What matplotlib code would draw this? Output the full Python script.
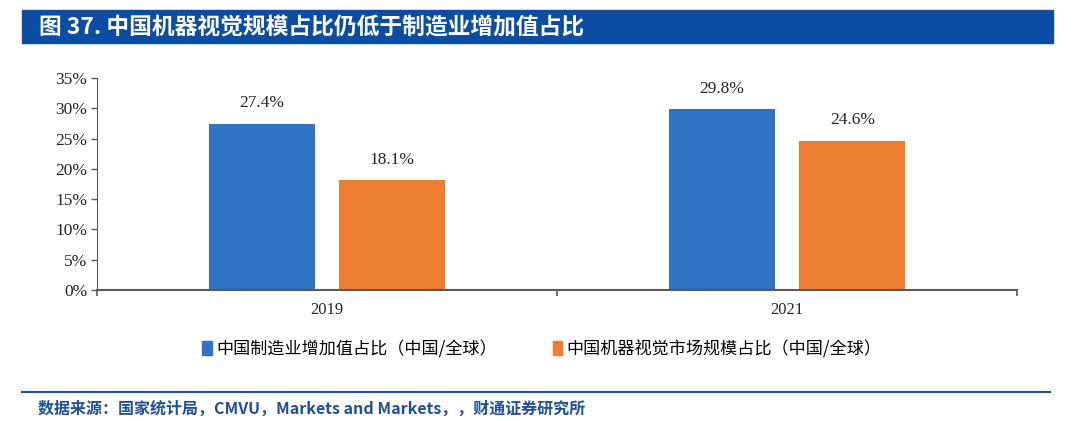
import matplotlib
matplotlib.use("Agg")
import matplotlib.pyplot as plt
from matplotlib.patches import Rectangle
from matplotlib.lines import Line2D
import numpy as np

years = ["2019", "2021"]
manufacturing_share = [27.4, 29.8]
vision_share = [18.1, 24.6]
series_names = ["中国制造业增加值占比（中国/全球）", "中国机器视觉市场规模占比（中国/全球）"]
yticks = [0, 5, 10, 15, 20, 25, 30, 35]

title = "图 37. 中国机器视觉规模占比仍低于制造业增加值占比"
source = "数据来源：国家统计局，CMVU，Markets and Markets，，财通证券研究所"

CJK = ["Noto Sans CJK SC", "DejaVu Sans"]
SERIF = ["Liberation Serif", "DejaVu Serif"]
BLUE = "#3072C4"
ORANGE = "#ED7D31"
AXIS = "#595959"
BANNER = "#0A4DA2"

W, H = 1080, 421
fig = plt.figure(figsize=(W / 100, H / 100), dpi=100)

# title banner
fig.patches.append(Rectangle((22 / W, 1 - 43 / H), (1053 - 22) / W, 33 / H,
                             transform=fig.transFigure, color=BANNER, zorder=0))
fig.text(39 / W, 1 - 27 / H, title, color="white", fontsize=16.4, fontweight="bold",
         family=CJK, va="center", ha="left")

ax = fig.add_axes([97 / W, 1 - 290 / H, (1017 - 97) / W, (290 - 78) / H])
x = np.arange(len(years))
bw = 0.23
off = 0.142
b1 = ax.bar(x - off, manufacturing_share, bw, color=BLUE, zorder=2)
b2 = ax.bar(x + off, vision_share, bw, color=ORANGE, zorder=2)
for bars in (b1, b2):
    for r in bars:
        ax.text(r.get_x() + r.get_width() / 2, r.get_height() + 2.1,
                f"{r.get_height():.1f}%", ha="center", va="bottom",
                fontsize=12.5, family=SERIF, color="#262626")

ax.set_xlim(-0.5, len(years) - 0.5)
ax.set_ylim(0, 35)
ax.set_yticks(yticks)
ax.set_yticklabels([f"{v}%" for v in yticks], family=SERIF, fontsize=12.5, color="#262626")
ax.set_xticks(x)
ax.set_xticklabels(years, family=SERIF, fontsize=12, color="#262626")
ax.tick_params(axis="x", length=0, pad=9)
ax.set_xticks(np.arange(-0.5, len(years)), minor=True)
ax.tick_params(axis="x", which="minor", length=4, color=AXIS, width=1.2)
ax.tick_params(axis="y", length=4, color=AXIS, width=1, pad=3)
for s in ("top", "right"):
    ax.spines[s].set_visible(False)
ax.spines["left"].set_color(AXIS)
ax.spines["bottom"].set_color(AXIS)
ax.spines["bottom"].set_linewidth(1.5)
ax.spines["bottom"].set_zorder(3)

# legend
handles = [Rectangle((0, 0), 1, 1, color=BLUE), Rectangle((0, 0), 1, 1, color=ORANGE)]
fig.legend(handles, series_names, loc="center", bbox_to_anchor=(542 / W, 1 - 349 / H),
           ncol=2, frameon=False, prop={"family": CJK, "size": 12.3},
           handlelength=0.55, handleheight=0.9, handletextpad=0.25, columnspacing=3.3)

# bottom rule and source
fig.lines.append(Line2D([22 / W, 1050 / W], [1 - 392 / H, 1 - 392 / H],
                        transform=fig.transFigure, color="#1F4E9A", lw=1.5))
fig.text(38 / W, 1 - 409 / H, source, color="#1F4E9A", fontsize=11.5, fontweight="bold",
         family=CJK, va="center", ha="left")

fig.savefig("out.png", dpi=100)
